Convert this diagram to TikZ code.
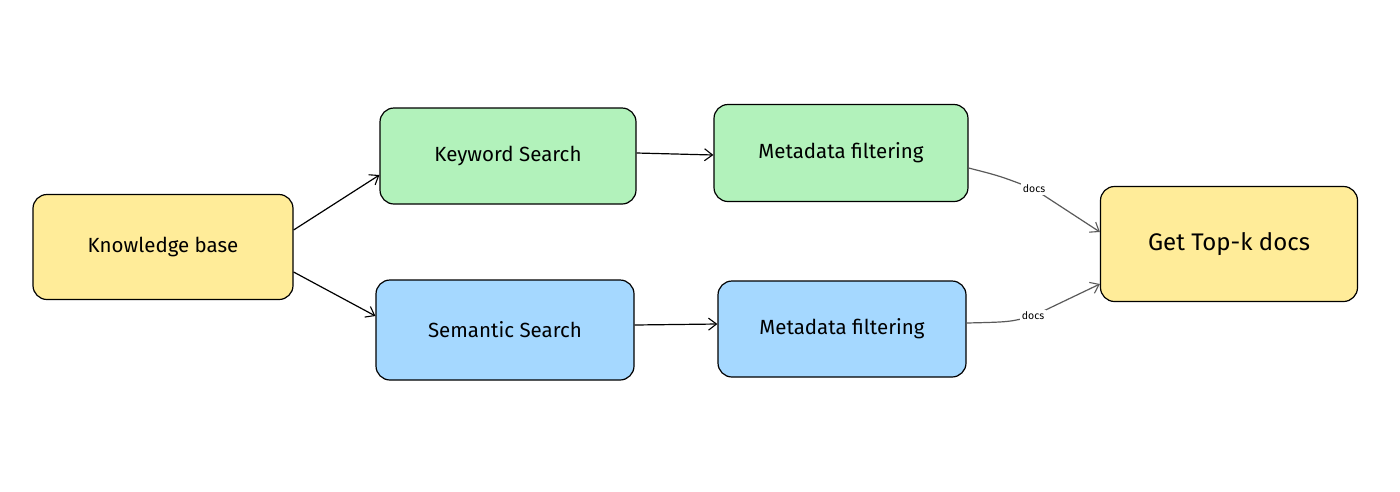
\documentclass[tikz,border=0pt]{standalone}
\usepackage{fontspec}
\setmainfont{Fira Sans}
\usetikzlibrary{arrows.meta}
\definecolor{kgreen}{HTML}{B2F2BB}
\definecolor{kblue}{HTML}{A5D8FF}
\definecolor{kyellow}{HTML}{FFEC99}
\definecolor{kgray}{HTML}{5A5A5A}
\begin{document}
\begin{tikzpicture}[x=1pt,y=-1pt,
  box/.style={draw=black, line width=1.2pt, rounded corners=14pt, anchor=center, inner sep=0pt,
    font=\fontsize{20.5}{24}\selectfont},
  conn/.style={line width=1.2pt, -{Straight Barb[length=8pt,width=12pt,line width=1.1pt]}},
  gconn/.style={conn, draw=kgray},
  lbl/.style={font=\fontsize{10.5}{12}\selectfont, fill=white, inner sep=2pt}]
\useasboundingbox (0,0) rectangle (1400,491);
\node[box, fill=kyellow, minimum width=260pt, minimum height=105pt] (kb) at (163,247) {Knowledge base};
\node[box, fill=kgreen, minimum width=256pt, minimum height=96pt] (ks) at (508,156) {Keyword Search};
\node[box, fill=kgreen, minimum width=254pt, minimum height=97pt] (m1) at (841,153) {Metadata filtering};
\node[box, fill=kblue, minimum width=258pt, minimum height=100pt] (ss) at (505,330) {Semantic Search};
\node[box, fill=kblue, minimum width=248pt, minimum height=96pt] (m2) at (842,329) {Metadata filtering};
\node[box, fill=kyellow, minimum width=257pt, minimum height=115pt, font=\fontsize{24}{28}\selectfont] (top) at (1229,244) {Get Top-k docs};
\coordinate (d1) at (1034,189);
\coordinate (d2) at (1033,316);
\draw[conn] (kb.east |- 0,230) -- (ks.west |- 0,175);
\draw[conn] (kb.east |- 0,272) -- (ss.west |- 0,316);
\draw[conn] (ks.east |- 0,153) -- (m1.west |- 0,155);
\draw[conn] (ss.east |- 0,325) -- (m2.west |- 0,324);
\draw[gconn] (m1.east |- 0,168) .. controls (1000,176) .. (d1) -- (top.west |- 0,232);
\node[lbl] (l1) at (d1) {docs};
\draw[gconn] (m2.east |- 0,323) .. controls (1010,322) .. (d2) -- (top.west |- 0,284);
\node[lbl] (l2) at (d2) {docs};
\end{tikzpicture}
\end{document}
